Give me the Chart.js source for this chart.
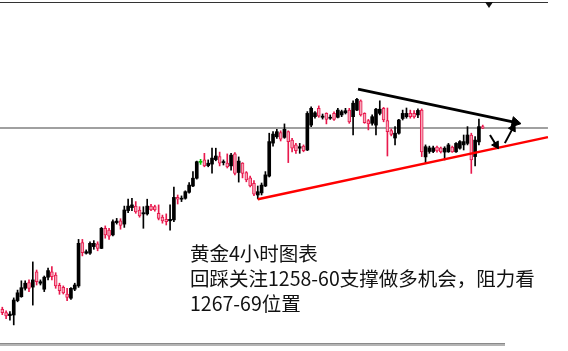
<!DOCTYPE html>
<html>
<head>
<meta charset="utf-8">
<script src="https://cdn.jsdelivr.net/npm/chart.js@4/dist/chart.umd.min.js"></script>
<style>
  html, body { margin: 0; padding: 0; background: #fff; }
  #wrap { position: relative; width: 568px; height: 351px; overflow: hidden; }
  #frameTop { position: absolute; left: 0; top: 2px; width: 548px; height: 1px; background: #333; }
  #shiftMark { position: absolute; left: 485px; top: 2px; width: 0; height: 0;
    border-left: 4px solid transparent; border-right: 4px solid transparent; border-top: 6px solid #111; }
  #frameBottom { position: absolute; left: 0; top: 343px; width: 505px; height: 1px;
    background: #8a8a8a; border-bottom: 2px solid #b4b4b4; }
  #note { position: absolute; left: 190px; top: 240px; white-space: nowrap;
    font-family: "Noto Sans CJK SC", "Noto Sans", sans-serif; font-size: 19.5px; line-height: 25px; color: #111; }
</style>
</head>
<body>
<div id="wrap">
  <canvas id="chart" width="568" height="351"></canvas>
  <div id="frameTop"></div>
  <div id="shiftMark"></div>
  <div id="frameBottom"></div>
  <div id="note">黄金4小时图表<br>回踩关注1258-60支撑做多机会，阻力看<br>1267-69位置</div>
</div>
<script>
// gold 4h candles (left to right)
const opens = [1203.9,1202.8,1201.8,1202.0,1206.8,1208.1,1210.9,1212.8,1211.3,1216.4,
  1212.6,1210.6,1214.6,1216.4,1215.3,1211.9,1211.2,1209.0,1207.6,1210.6,
  1211.7,1226.1,1222.6,1222.6,1224.8,1225.7,1224.2,1230.9,1230.3,1228.7,
  1232.8,1233.4,1232.3,1236.8,1237.8,1238.3,1237.0,1235.7,1235.7,1238.3,
  1238.1,1235.9,1234.6,1233.9,1233.4,1233.7,1241.2,1240.6,1240.9,1242.9,
  1245.0,1247.6,1252.9,1253.7,1251.8,1252.3,1253.8,1254.8,1252.8,1252.6,
  1251.7,1255.7,1249.5,1252.6,1249.5,1247.7,1245.9,1242.0,1242.7,1245.0,
  1248.3,1259.3,1261.4,1262.8,1261.2,1263.1,1260.3,1258.7,1257.6,1258.3,
  1257.0,1265.3,1268.1,1270.9,1267.9,1269.2,1267.6,1269.2,1267.9,1268.7,
  1269.4,1270.3,1268.1,1270.3,1273.4,1269.2,1266.8,1265.9,1265.3,1269.2,
  1270.9,1266.8,1263.5,1261.0,1262.6,1267.5,1268.1,1269.2,1269.2,1268.7,
  1270.3,1254.7,1256.5,1256.5,1258.0,1257.7,1256.3,1256.4,1258.0,1256.4,
  1257.6,1258.7,1259.2,1262.0,1254.8,1259.7,1264.8];
const highs = [1204.6,1203.4,1203.1,1207.7,1210.3,1213.4,1213.4,1213.7,1219.7,1217.0,
  1213.7,1215.0,1217.6,1218.1,1216.1,1212.6,1211.7,1210.9,1211.1,1212.6,
  1227.2,1227.2,1223.7,1226.4,1226.8,1226.4,1231.2,1231.7,1230.9,1233.7,
  1234.2,1234.1,1238.3,1240.6,1240.9,1239.8,1238.1,1238.1,1240.6,1238.9,
  1238.6,1238.7,1235.3,1235.7,1238.7,1244.6,1242.0,1241.7,1243.4,1246.1,
  1249.8,1253.3,1253.9,1255.9,1253.7,1257.6,1257.6,1256.3,1253.7,1255.7,
  1255.9,1256.1,1254.7,1252.8,1249.8,1248.3,1246.8,1245.0,1246.0,1249.8,
  1262.6,1263.1,1263.9,1263.4,1265.7,1263.4,1260.9,1259.2,1259.2,1258.7,
  1269.8,1271.4,1269.8,1271.7,1269.0,1269.4,1268.7,1269.7,1270.9,1270.3,
  1270.9,1270.9,1273.4,1274.2,1273.7,1269.4,1267.2,1268.7,1270.9,1273.4,
  1271.2,1271.0,1264.0,1264.8,1267.2,1270.3,1271.0,1270.3,1270.1,1270.7,
  1270.7,1258.7,1258.3,1258.3,1258.3,1258.0,1258.1,1259.2,1258.3,1259.5,
  1260.1,1262.0,1264.8,1262.6,1261.5,1267.3,1265.3];
const lows = [1202.1,1200.8,1200.3,1198.7,1206.4,1207.9,1210.3,1209.8,1205.3,1212.0,
  1212.0,1209.8,1213.7,1213.7,1210.9,1208.9,1209.0,1206.8,1207.2,1210.1,
  1211.2,1221.7,1222.3,1222.2,1223.9,1223.4,1224.1,1227.6,1227.2,1228.4,
  1232.3,1230.6,1231.2,1236.1,1236.8,1235.9,1234.6,1230.9,1235.3,1236.8,
  1236.6,1233.7,1232.6,1232.0,1230.3,1233.1,1239.0,1239.8,1240.6,1242.6,
  1244.8,1247.3,1252.2,1251.4,1251.4,1249.3,1253.4,1251.7,1252.0,1251.0,
  1250.3,1248.7,1246.3,1247.7,1246.4,1244.7,1241.8,1240.7,1242.0,1244.8,
  1248.0,1258.3,1260.9,1260.0,1260.9,1252.8,1256.4,1255.9,1255.9,1256.4,
  1256.8,1264.8,1267.6,1267.9,1267.3,1265.7,1267.2,1266.9,1267.7,1268.1,
  1269.0,1265.9,1262.0,1270.1,1268.3,1265.9,1263.7,1265.3,1262.0,1268.7,
  1266.4,1255.0,1261.7,1258.7,1262.3,1267.0,1267.6,1267.6,1267.6,1267.8,
  1254.8,1252.6,1255.9,1256.1,1256.3,1256.0,1253.7,1256.2,1256.2,1256.2,
  1257.3,1257.0,1258.7,1249.2,1251.7,1258.7,1264.1];
const closes = [1202.8,1201.7,1202.3,1207.0,1209.4,1211.1,1212.6,1210.9,1213.7,1213.1,
  1213.1,1214.6,1216.8,1214.8,1211.7,1210.1,1209.4,1207.9,1210.9,1212.0,
  1225.9,1222.8,1223.1,1225.9,1225.9,1224.2,1230.9,1228.7,1228.3,1233.1,
  1233.3,1231.9,1237.0,1238.3,1238.7,1236.4,1235.0,1236.1,1238.3,1237.0,
  1237.0,1234.2,1233.4,1233.1,1233.9,1241.2,1240.6,1240.9,1243.1,1245.3,
  1247.6,1253.1,1252.9,1251.7,1252.6,1254.3,1255.0,1252.6,1253.1,1251.4,
  1255.3,1249.2,1253.3,1249.2,1247.0,1245.0,1242.3,1243.1,1245.3,1248.7,
  1259.8,1262.3,1263.1,1260.6,1263.9,1259.8,1257.6,1256.8,1258.1,1256.8,
  1269.2,1270.9,1269.4,1268.3,1268.3,1267.2,1267.9,1267.2,1270.3,1269.8,
  1270.1,1266.4,1272.6,1273.9,1268.7,1266.1,1265.7,1268.1,1270.6,1270.6,
  1267.0,1263.1,1262.2,1262.6,1267.0,1269.2,1269.2,1268.1,1268.0,1270.2,
  1256.4,1258.1,1257.7,1257.7,1256.7,1256.4,1257.6,1258.7,1256.4,1259.2,
  1259.8,1259.8,1262.0,1253.7,1260.3,1264.8,1264.3];

// price line and hand drawn annotations, in [candle index, price]
const bidLevel = 1264.3;
const supportLine = [[67, 1240.6], [143.1, 1261.3]];
const resistLine = [[93.3, 1277.3], [134.5, 1266.2]];
const arrowDown = [[127.9, 1262.0], [129.5, 1258.7]];
const arrowUp = [[131.8, 1259.3], [133.9, 1264.3]];

const UP = '#000000';
const DOWN_LINE = '#e8194d';
const DOWN_FILL = '#f6a5b8';
const DOJI = '#00c800';

function candleColor(i, fill) {
  if (opens[i] === closes[i]) return DOJI;
  if (closes[i] > opens[i]) return UP;
  return fill ? DOWN_FILL : DOWN_LINE;
}

function toPoints(pairs) {
  return pairs.map(p => ({ x: p[0], y: p[1] }));
}

// rotate a triangle so it points along the last segment of a line
function headRotation(ctx) {
  const ds = ctx.chart.data.datasets[ctx.datasetIndex].data;
  const sx = ctx.chart.scales.x, sy = ctx.chart.scales.y;
  const a = ds[0], b = ds[ds.length - 1];
  const dx = sx.getPixelForValue(b.x) - sx.getPixelForValue(a.x);
  const dy = sy.getPixelForValue(b.y) - sy.getPixelForValue(a.y);
  return Math.atan2(dx, -dy) * 180 / Math.PI;
}

function arrowSet(pairs, width, head) {
  return {
    type: 'line',
    data: toPoints(pairs),
    borderColor: '#000',
    borderWidth: width,
    pointStyle: 'triangle',
    pointRadius: ctx => ctx.dataIndex === pairs.length - 1 ? head : 0,
    pointBackgroundColor: '#000',
    pointBorderColor: '#000',
    pointBorderWidth: 1,
    pointRotation: headRotation,
    order: 0
  };
}

const idx = opens.map((_, i) => i);

new Chart(document.getElementById('chart'), {
  type: 'bar',
  data: {
    datasets: [
      arrowSet(resistLine, 3, 6),
      arrowSet(arrowDown, 2, 4.5),
      arrowSet(arrowUp, 2, 4.5),
      {
        type: 'line',
        data: toPoints(supportLine),
        borderColor: '#ff0000',
        borderWidth: 2.5,
        pointRadius: 0,
        order: 1
      },
      {
        label: 'body',
        data: idx.map(i => ({ x: i, y: [opens[i], closes[i]] })),
        backgroundColor: ctx => candleColor(ctx.dataIndex, true),
        borderColor: ctx => candleColor(ctx.dataIndex, false),
        borderWidth: ctx => closes[ctx.dataIndex] < opens[ctx.dataIndex] ? 1 : 0,
        borderSkipped: false,
        barThickness: 3,
        minBarLength: 1,
        grouped: false,
        order: 2
      },
      {
        label: 'wick',
        data: idx.map(i => ({ x: i, y: [lows[i], highs[i]] })),
        backgroundColor: ctx => candleColor(ctx.dataIndex, false),
        borderWidth: 0,
        barThickness: 1,
        grouped: false,
        order: 3
      },
      {
        type: 'line',
        data: [{ x: -1, y: bidLevel }, { x: 143.1, y: bidLevel }],
        borderColor: '#808080',
        borderWidth: 1.5,
        pointRadius: 0,
        order: 4
      }
    ]
  },
  options: {
    responsive: false,
    animation: false,
    layout: { padding: 0, autoPadding: false },
    plugins: { legend: { display: false }, tooltip: { enabled: false } },
    scales: {
      x: { type: 'linear', min: -0.603, max: 148.36, offset: false, display: false },
      y: { min: 1190, max: 1307, display: false }
    }
  }
});
</script>
</body>
</html>
